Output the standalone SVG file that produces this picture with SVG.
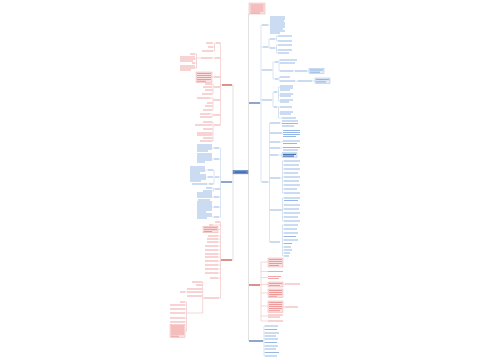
<svg xmlns="http://www.w3.org/2000/svg" width="500" height="360" viewBox="0 0 500 360">
<style>
.r{stroke:#e15f5f;stroke-width:1;fill:none;opacity:.55}
.b{stroke:#3f7bd0;stroke-width:1;fill:none;opacity:.55}
.rd{stroke:#c0392b;stroke-width:1.3;fill:none;opacity:.85}
.bd{stroke:#2d5fa8;stroke-width:1.3;fill:none;opacity:.85}
.rc{stroke:#efb0b0;stroke-width:.5;fill:none}
.bc{stroke:#b5cbe9;stroke-width:.5;fill:none}
.mc{stroke:#cfcfcf;stroke-width:.6;fill:none}
.rbox{fill:#fbe2e2;stroke:#ea9d9d;stroke-width:.4}
.bbox{fill:#e4edf9;stroke:#8fb0de;stroke-width:.4}
</style>
<rect width="500" height="360" fill="#ffffff"/>
<g id="connectors">
<path class="mc" d="M247,172H248.5M248.5,14V341M233,85V260M232,85H233M232,182H233M232,260H233"/>
<path class="bc" d="M260,103H261M261,25V182M261,25H262M261,47H263M261,70H262M261,100H262M261,182H262M268,25H270
M268,47H269M269,39V48M269,39H270M269,48H270M275,39H276.5M276.5,36V41M276.5,36H278M276.5,41H278M275,48H276.5M276.5,45V53M276.5,45H278M276.5,50H278M276.5,53H278
M272,70H273M273,62V79M273,62H275M273,79H275M278,62H279M279,60V71M279,60H280M279,63H280M279,71H280M293,71H295M307,71H309M278,79H279M279,77V81M279,77H280M279,81H280M295,81H298M312,81H315
M272,100H273M273,92V107M273,92H274M273,107H274M277,92H278.5M278.5,87V101M278.5,87H280M278.5,95H280M278.5,101H280M277,107H278.5M278.5,107V118M278.5,107H280M278.5,113H280M278.5,118H282
M268,182H269.5M269.5,123V242M269.5,123H270M269.5,133H270M269.5,142H270M269.5,148H270M269.5,155H270M269.5,178H270M269.5,210H270M269.5,242H270
M280,123H282M282,133H283M280,142H283M280,148H283M278,155H282
M280,178H282.5M282.5,161V193M282.5,161H284M282.5,165H284M282.5,169H284M282.5,173H284M282.5,177H284M282.5,181H284M282.5,185H284M282.5,189H284M282.5,193H284
M282,210H282.5M282.5,198V221M282.5,198H284M282.5,205H284M282.5,209H284M282.5,213H284M282.5,217H284M282.5,221H284
M282,242H282.5M282.5,225V256M282.5,225H284M282.5,229H284M282.5,233H284M282.5,236.5H284M282.5,240H284M282.5,243.5H284M282.5,247H284M282.5,250H284M282.5,253H284M282.5,256H284
M263,341H264M264,326V356M264,326H265M264,329.5H265M264,333H265M264,336H265M264,339H265M264,342.5H265M264,346H265M264,349H265M264,352.5H265M264,356H265
M221,182H220.5M220.5,148V217M220.5,148H219M220.5,159H219M220.5,177H219M220.5,189H220M220.5,197H219M220.5,207H219M220.5,217H219
M214,148H212M214,159H212M215,177H214M214,170V184M214,170H213M214,184H213M208,170H205M208,177H206M209,184H207M215,189H213.5M213.5,188V191M213.5,188H212M213.5,191H212M214,197H212M214,207H212M214,217H212"/>
<path class="rc" d="M260,285H261M261,262V321M261,262H268M261,271.5H268M261,277.5H268M261,284.5H268M261,293H268M261,306H268M261,316H268M261,321H268M283,284H285M283,307H285
M222,85H220.5M220.5,43V125M220.5,43H220M220.5,58H220M220.5,77H220M220.5,87H220M220.5,100H220M220.5,115H220M220.5,125H220
M216,43H214.5M214.5,43V51M214.5,47H213M214.5,51H213M215,58H212M201,58H196.5M196.5,54V68M196.5,54H195M196.5,59H195M196.5,63H195M196.5,68H195M214,77H212
M214,87H213M213,84V94M213,84H212M213,90H212M213,94H212M214,100H213M213,98V110M213,98H210M213,103H212M213,106H212M213,110H212M214,115H213M213,114V117M213,114H210M214,125H213M213,122V141M213,122H212M213,129H212M213,134H212M213,138H212M213,141H212
M221,260H220.5M220.5,222V298M220.5,222H220M220.5,225H213M220.5,229.5H218M220.5,236H218M220.5,239H218M220.5,242H218M220.5,246H218M220.5,250H218M220.5,254H218M220.5,257H218M220.5,261H218M220.5,265H218M220.5,269H218M220.5,273H218M220.5,278H218M220.5,298H219
M204,298H202.7M202.7,282V313M202.7,282H202M202.7,285H202M202.7,289H202M202.7,292H202M202.7,296H202M185,292H187M202.7,313H186.5M186.5,302V331M186.5,302H185M186.5,305H185M186.5,309H185M186.5,313H185M186.5,318H185M186.5,322H185M186.5,331H185"/>
</g>
<g id="center"><rect x="233" y="170.3" width="15" height="3.6" fill="#7399d8" stroke="#3d6ab3" stroke-width=".4"/><path d="M234.5,172.1H246.5" stroke="#1f3f75" stroke-width="1" opacity=".8"/></g>
<g id="top"><rect class="rbox" x="249" y="3" width="16" height="11"/><path class="r" d="M250.5,5H263.5M250.5,7H263.5M250.5,9H263.5M250.5,11H263.5M250.5,13H260"/></g>
<g id="nA"><path class="bd" d="M249,103H260"/></g>
<g id="nA1"><path class="b" d="M262,25H268"/><path class="b" d="M270,17H285M270,19H285M270,21H284M270,23H285M270,25H285M270,27H285M270,29H283M270,31H285M270,33H280"/></g>
<g id="nA2"><path class="b" d="M263,47H268M270,39H275M270,48H275M278,36H292M278,41H292M278,45H292M278,50H292M278,53H289"/></g>
<g id="nA3"><path class="b" d="M262,70H272M275,62H278M275,79H278M280,60H297M280,63H295M280,71H293M295,71H307M280,77H290M280,81H295M298,81H312"/>
<rect class="bbox" x="309" y="68.5" width="15" height="5"/><rect class="bbox" x="315" y="78" width="15" height="5.5"/><path class="b" d="M310,70H323M310,72.2H320M316,79.6H329M316,81.9H326"/></g>
<g id="nA4"><path class="b" d="M262,100H272M274,92H277M274,107H277M280,86H293M280,88H293M280,90H290M280,94H293M280,96H291M280,100H293M280,102H289M280,107H292M280,112H293M280,114H291M282,118H296"/></g>
<g id="nB"><path class="b" d="M262,182H268"/></g>
<g id="nB1"><path class="b" d="M270,123H280M282,121H298M282,123.5H298M282,126H294"/></g>
<g id="nB2"><path class="b" d="M270,133H282M283,130.5H300M283,132.5H300M283,134.5H300M283,136.5H296"/></g>
<g id="nB3"><path class="b" d="M270,142H280M283,141H300M283,143.5H297"/></g>
<g id="nB4"><path class="b" d="M270,148H280M283,147.5H300M283,150H298"/></g>
<g id="nB5"><path class="b" d="M270,155H278"/><rect class="bbox" x="282" y="152.8" width="15" height="4.6"/><path class="bd" stroke-width=".9" d="M283,154.3H296M283,156.2H294"/></g>
<g id="nB6"><path class="b" d="M270,178H280M284,161H300M284,165H299M284,169H300M284,173H298M284,177H300M284,181H299M284,185H300M284,189H297M284,193H300"/></g>
<g id="nB7"><path class="b" d="M270,210H282M284,198H300M284,200.5H298M284,205H300M284,209H299M284,213H300M284,217H298M284,221H300"/></g>
<g id="nB8"><path class="b" d="M270,242H280M284,225H298M284,229H297M284,233H298M284,236.5H296M284,240H298M284,243.5H292M284,247H291M284,250H292M284,253H290M284,256H289"/></g>
<g id="nR"><path class="rd" d="M249,285H260"/></g>
<g id="nR1"><rect class="rbox" x="268" y="258" width="15" height="9"/><path class="r" d="M269,259.5H282M269,261.5H282M269,263.5H282M269,265.5H279"/></g>
<g id="nR2"><path class="r" d="M268,271.5H283"/></g>
<g id="nR3"><path class="r" d="M268,276.5H281M268,278.5H279"/></g>
<g id="nR4"><rect class="rbox" x="268" y="282" width="15" height="5"/><path class="r" d="M269,283.5H282M269,285.5H280M285,284H300"/></g>
<g id="nR5"><rect class="rbox" x="268" y="289" width="15" height="8.5"/><path class="r" d="M269,290.5H282M269,292.5H282M269,294.5H282M269,296.3H277"/></g>
<g id="nR6"><rect class="rbox" x="268" y="301" width="15" height="11.5"/><path class="r" d="M269,302.5H282M269,304.5H282M269,306.5H282M269,308.5H282M269,310.7H280M285,307H298"/></g>
<g id="nR7"><path class="r" d="M268,315H283M268,317H280"/></g>
<g id="nR8"><path class="r" d="M268,321H283"/></g>
<g id="nC"><path class="bd" d="M249,341H263"/><path class="b" d="M265,326H278M265,329.5H277M265,333H279M265,336H276M265,339H278M265,342.5H277M265,346H278M265,349H276M265,352.5H279M265,356H277"/></g>
<g id="nL1"><path class="rd" d="M222,85H232"/></g>
<g id="nL1a"><path class="r" d="M216,43H220M206,43H213M208,47H213M202,51H213"/></g>
<g id="nL1b"><path class="r" d="M215,58H220M201,58H212M190,54H195M180,57H195M180,59H195M180,61H193M192,63H195M180,66H195M180,68H195M180,70H191"/></g>
<g id="nL1c"><path class="r" d="M214,77H220"/><rect class="rbox" x="196" y="72" width="16" height="10.5"/><path class="r" d="M197,73.5H211M197,75.5H211M197,77.5H211M197,79.5H211M197,81.3H206"/></g>
<g id="nL1d"><path class="r" d="M214,87H220M205,84H212M203,87H212M205,90H212M202,94H212"/></g>
<g id="nL1e"><path class="r" d="M214,100H220M197,98H210M207,103H212M205,106H212M203,110H212"/></g>
<g id="nL1f"><path class="r" d="M214,115H220M200,114H210M200,117H212"/></g>
<g id="nL1g"><path class="r" d="M214,125H220M203,122H212M195,125H212M203,129H212M197,133H212M197,135H212M203,138H212M200,141H212"/></g>
<g id="nL2"><path class="bd" d="M221,182H232"/></g>
<g id="nL2a"><path class="b" d="M214,148H219M197,145H212M197,147H212M197,149H212M197,151H208"/></g>
<g id="nL2b"><path class="b" d="M214,159H219M197,154H212M197,156H212M197,158H212M197,160H212M197,162H205"/></g>
<g id="nL2c"><path class="b" d="M215,177H219M208,170H213M208,177H213M209,184H213M190,167H205M190,169H205M190,171H205M190,173H200M190,175H206M190,177H206M190,179H206M190,181H201M192,184H207"/></g>
<g id="nL2d"><path class="b" d="M215,189H220M206,188H212M203,191H212"/></g>
<g id="nL2e"><path class="b" d="M214,197H219M197,193H212M197,195H212M197,197H212M198,200H210"/></g>
<g id="nL2f"><path class="b" d="M214,207H219M197,202H212M197,204H212M197,206H212M197,208H212M197,210H212M197,212H206"/></g>
<g id="nL2g"><path class="b" d="M214,217H219M197,214H212M197,216H212M197,218H207"/></g>
<g id="nL3"><path class="rd" d="M221,260H232"/></g>
<g id="nL3a"><path class="r" d="M215,222H220M209,225H213"/><rect class="rbox" x="203" y="226.3" width="15" height="6.5"/><path class="r" d="M204,227.7H217M204,229.6H217M204,231.5H212M208,236H218M207,239H218M207,242H218M205,246H218M205,250H218M205,254H218M205,257H218M205,261H218M205,265H218M205,269H218M205,273H218M210,278H218"/></g>
<g id="nL3b"><path class="r" d="M204,298H219M192,282H202M196,285H202M187,289H202M187,292H202M180,292H185M187,296H202"/></g>
<g id="nL3c"><path class="r" d="M180,302H185M170,305H185M170,309H185M170,313H185M170,318H185M170,322H185"/><rect class="rbox" x="170" y="324.5" width="15" height="13"/><path class="r" d="M171,326H184M171,328H184M171,330H184M171,332H184M171,334H184M171,336.2H179"/></g>
</svg>
